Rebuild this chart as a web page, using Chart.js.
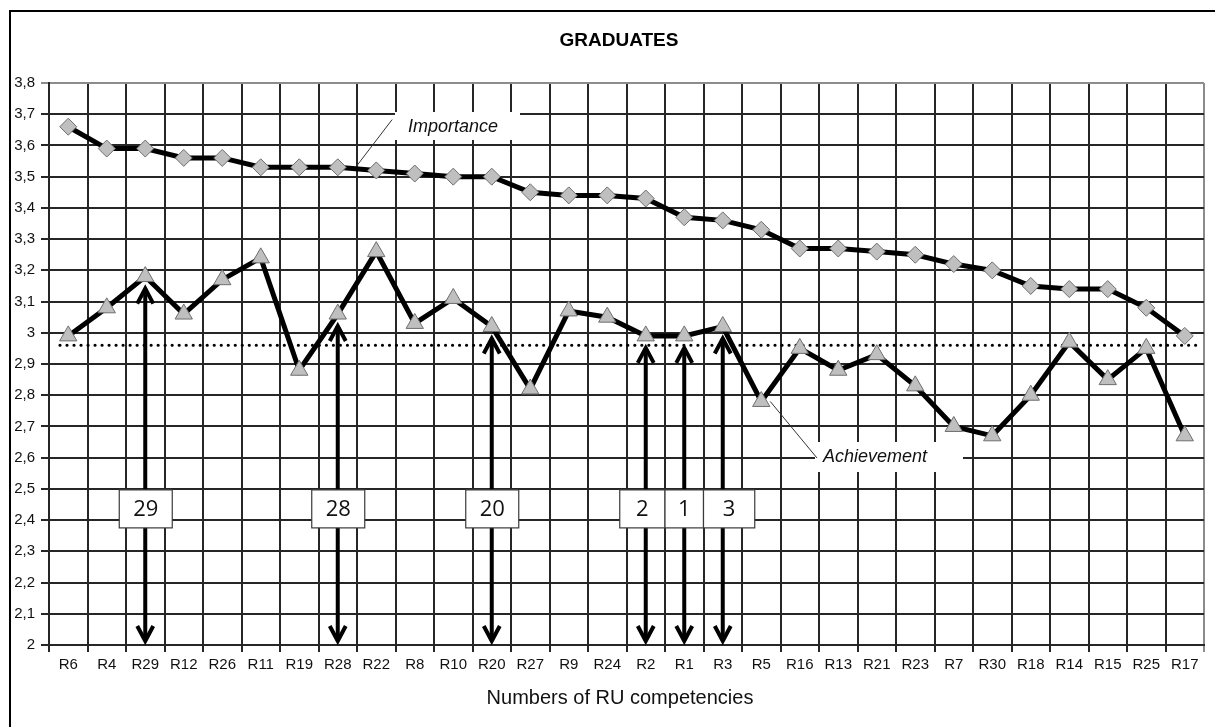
<!DOCTYPE html>
<html><head><meta charset="utf-8">
<script src="https://cdn.jsdelivr.net/npm/chart.js@4.4.1/dist/chart.umd.min.js"></script>
<style>html,body{margin:0;padding:0;background:#fff;}canvas{display:block;}</style>
</head><body>
<canvas id="c" width="1215" height="727"></canvas>
<script>
const categories = ['R6','R4','R29','R12','R26','R11','R19','R28','R22','R8','R10','R20','R27','R9','R24','R2','R1','R3','R5','R16','R13','R21','R23','R7','R30','R18','R14','R15','R25','R17'];
const importance = [3.66,3.59,3.59,3.56,3.56,3.53,3.53,3.53,3.52,3.51,3.50,3.50,3.45,3.44,3.44,3.43,3.37,3.36,3.33,3.27,3.27,3.26,3.25,3.22,3.20,3.15,3.14,3.14,3.08,2.99];
const achievement = [2.99,3.08,3.18,3.06,3.17,3.24,2.88,3.06,3.26,3.03,3.11,3.02,2.82,3.07,3.05,2.99,2.99,3.02,2.78,2.95,2.88,2.93,2.83,2.70,2.67,2.80,2.97,2.85,2.95,2.67];
const yTickValues = [2.0,2.1,2.2,2.3,2.4,2.5,2.6,2.7,2.8,2.9,3.0,3.1,3.2,3.3,3.4,3.5,3.6,3.7,3.8];
const yTickLabels = ['2','2,1','2,2','2,3','2,4','2,5','2,6','2,7','2,8','2,9','3','3,1','3,2','3,3','3,4','3,5','3,6','3,7','3,8'];
const averageLevel = 2.96;
const arrowCategories = ['R29','R28','R20','R2','R1','R3'];
const arrowLabels = ['29','28','20','2','1','3'];
const boxTopValue = 2.5;
const titleText = 'GRADUATES';
const xTitleText = 'Numbers of RU competencies';
const importanceLabel = 'Importance';
const achievementLabel = 'Achievement';

const FAM = "'Liberation Sans', Arial, sans-serif";
const GRID = '#262626';
const EDGE = '#8c8c8c';

const annot = {
  id: 'annot',
  beforeDatasetsDraw(chart) {
    const {ctx, chartArea: a, scales: {x, y}} = chart;
    ctx.save();
    // series label boxes (cover gridlines)
    ctx.fillStyle = '#fff';
    ctx.fillRect(395, 112, 125, 28);
    ctx.fillRect(815, 442, 148, 30);
    ctx.fillStyle = '#111';
    ctx.font = 'italic 18px ' + FAM;
    ctx.textBaseline = 'middle';
    ctx.textAlign = 'left';
    ctx.fillText(importanceLabel, 408, 127);
    ctx.fillText(achievementLabel, 823, 457);
    // leader lines
    ctx.strokeStyle = '#333';
    ctx.lineWidth = 1;
    const x7 = x.getPixelForValue(7), x8 = x.getPixelForValue(8);
    const lx = x7 + 0.4 * (x8 - x7);
    const ly = y.getPixelForValue(importance[7] + 0.4 * (importance[8] - importance[7])) + 2;
    ctx.beginPath(); ctx.moveTo(lx, ly); ctx.lineTo(lx + 39, ly - 51); ctx.stroke();
    const i5 = categories.indexOf('R5');
    const ax = x.getPixelForValue(i5) + 9, ay = y.getPixelForValue(achievement[i5]);
    ctx.beginPath(); ctx.moveTo(ax, ay); ctx.lineTo(817, 458); ctx.stroke();
    // dotted average line
    ctx.beginPath();
    ctx.setLineDash([0.01, 7]);
    ctx.lineCap = 'round';
    ctx.lineWidth = 3.2;
    ctx.strokeStyle = '#000';
    const yy = y.getPixelForValue(averageLevel);
    ctx.moveTo(a.left + 11, yy); ctx.lineTo(a.right - 5, yy); ctx.stroke();
    ctx.setLineDash([]);
    ctx.lineCap = 'butt';
    // arrows
    const idx = arrowCategories.map(c => categories.indexOf(c));
    const xs = idx.map(i => x.getPixelForValue(i));
    const bot = y.getPixelForValue(2);
    ctx.lineWidth = 4;
    ctx.lineJoin = 'miter';
    idx.forEach((i, k) => {
      const px = xs[k];
      const top = y.getPixelForValue(achievement[i]) + 9;
      ctx.beginPath(); ctx.moveTo(px, top + 3); ctx.lineTo(px, bot - 4); ctx.stroke();
      ctx.beginPath(); ctx.moveTo(px - 8, top + 18); ctx.lineTo(px, top + 3); ctx.lineTo(px + 8, top + 18); ctx.stroke();
      ctx.beginPath(); ctx.moveTo(px - 8, bot - 19); ctx.lineTo(px, bot - 4); ctx.lineTo(px + 8, bot - 19); ctx.stroke();
    });
    // label boxes
    const bt = y.getPixelForValue(boxTopValue) + 1;
    const bh = 38;
    idx.forEach((i, k) => {
      const px = xs[k];
      const prevAdj = k > 0 && idx[k - 1] === i - 1;
      const nextAdj = k < idx.length - 1 && idx[k + 1] === i + 1;
      const left = prevAdj ? (xs[k - 1] + px) / 2 : px - 26;
      const right = nextAdj ? (xs[k + 1] + px) / 2 : px + (prevAdj ? 32 : 27);
      ctx.fillStyle = '#fff';
      ctx.fillRect(left, bt, right - left, bh);
      ctx.strokeStyle = '#3a3a3a';
      ctx.lineWidth = 1.2;
      ctx.strokeRect(left, bt, right - left, bh);
      ctx.fillStyle = '#111';
      ctx.font = "22px 'Open Sans', sans-serif";
      ctx.textAlign = 'center';
      ctx.textBaseline = 'middle';
      ctx.fillText(arrowLabels[k], (left + right) / 2, bt + bh / 2 + 1);
    });
    ctx.restore();
  },
  afterDraw(chart) {
    const {ctx} = chart;
    ctx.save();
    ctx.fillStyle = '#000';
    ctx.textAlign = 'center';
    ctx.textBaseline = 'middle';
    ctx.font = 'bold 19px ' + FAM;
    ctx.fillText(titleText, 619, 41);
    ctx.fillStyle = '#111';
    ctx.font = '20px ' + FAM;
    ctx.fillText(xTitleText, 620, 698);
    ctx.strokeStyle = '#000';
    ctx.lineWidth = 2;
    ctx.strokeRect(10, 11, 1400, 900);
    ctx.restore();
  }
};

new Chart(document.getElementById('c'), {
  type: 'line',
  data: {
    labels: categories,
    datasets: [
      {
        label: importanceLabel, data: importance,
        borderColor: '#000', borderWidth: 5, tension: 0,
        pointStyle: 'rectRot', pointRadius: 8.5, pointHoverRadius: 8.5,
        pointBackgroundColor: '#bfbfbf', pointBorderColor: '#6e6e6e', pointBorderWidth: 1
      },
      {
        label: achievementLabel, data: achievement,
        borderColor: '#000', borderWidth: 5, tension: 0,
        pointStyle: 'triangle', pointRadius: 10, pointHoverRadius: 10,
        pointBackgroundColor: '#bfbfbf', pointBorderColor: '#6e6e6e', pointBorderWidth: 1
      }
    ]
  },
  options: {
    responsive: false,
    animation: false,
    events: [],
    layout: { padding: { top: 83, right: 7, bottom: 0, left: 0 } },
    plugins: { legend: { display: false }, title: { display: false }, tooltip: { enabled: false } },
    scales: {
      x: {
        offset: true,
        grid: { offset: true, color: c => (c.type === 'tick' ? GRID : EDGE), lineWidth: 2, tickLength: 7 },
        border: { color: GRID, width: 2 },
        ticks: { font: { size: 15, family: FAM }, color: '#111', padding: 4, maxRotation: 0, autoSkip: false },
        afterFit: s => { s.height = 82; }
      },
      y: {
        min: 2, max: 3.8,
        afterBuildTicks: s => { s.ticks = yTickValues.map(v => ({ value: v })); },
        ticks: { callback: (v, i) => yTickLabels[i], font: { size: 15, family: FAM }, color: '#111', padding: 6 },
        grid: { color: c => (c.tick && c.tick.value > 3.79 ? EDGE : GRID), lineWidth: 2, tickLength: 8 },
        border: { color: GRID, width: 2 },
        afterFit: s => { s.width = 49; }
      }
    }
  },
  plugins: [annot]
});
</script>
</body></html>
